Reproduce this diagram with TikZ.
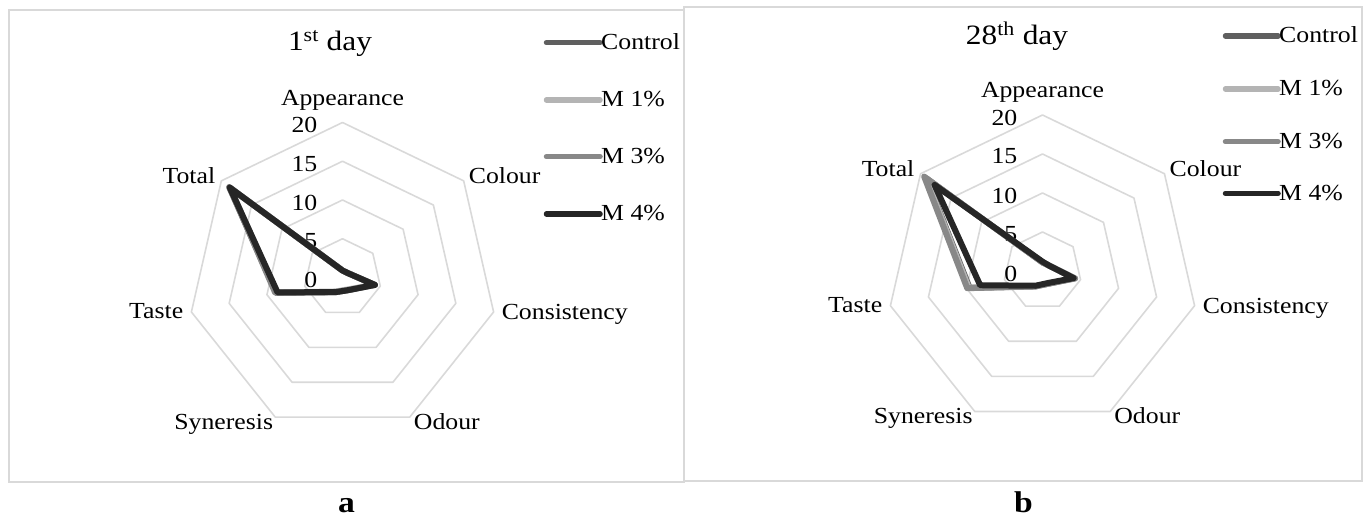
\documentclass[tikz,border=0pt]{standalone}
\usepackage{fontspec}
\setmainfont{Liberation Serif}[FakeStretch=1.12]
\usetikzlibrary{calc}
\definecolor{gridc}{HTML}{D9D9D9}
\definecolor{ctrlc}{HTML}{5F5F5F}
\definecolor{mone}{HTML}{B4B4B4}
\definecolor{mthree}{HTML}{888888}
\definecolor{mfour}{HTML}{262626}
\tikzset{
  frame/.style={draw=gridc, line width=2pt},
  ring/.style={draw=gridc, line width=1.6pt, line join=round},
  serline/.style={line width=6pt, line join=round, line cap=round},
  legline/.style={line width=5.5pt, line cap=round},
  lab/.style={inner sep=0pt, font=\fontsize{23}{27}\selectfont},
  ttl/.style={inner sep=0pt, font=\fontsize{28}{32}\selectfont},
  sub/.style={inner sep=0pt, font=\fontsize{30}{34}\selectfont\bfseries},
}
% #1 prefix, #2 cx, #3 cy, #4 R
\newcommand\radargrid[4]{%
  \foreach \m in {1,2,3,4} {
    \draw[ring] \foreach \k in {0,...,6} {
      \ifnum\k=0 ({#2+\m/4*#4*cos(90)}, {#3-\m/4*#4*sin(90)})
      \else -- ({#2+\m/4*#4*cos(90-\k*360/7)}, {#3-\m/4*#4*sin(90-\k*360/7)})\fi
    } -- cycle;
  }
  \foreach \k in {0,...,6} {
    \coordinate (#1-v\k) at ({#2+#4*cos(90-\k*360/7)}, {#3-#4*sin(90-\k*360/7)});
  }
  \foreach \m/\t in {0/0,1/5,2/10,3/15,4/20} {
    \node[lab, anchor=east] (#1-tick\m) at ({#2-25}, {#3-\m/4*#4+2.5}) {\t};
  }
  \node[lab, anchor=base] (#1-app) at ($(#1-v0)+(0,-17)$) {Appearance};
  \node[lab, anchor=base west] (#1-col) at ($(#1-v1)+(5,3)$) {Colour};
  \node[lab, anchor=base west] (#1-con) at ($(#1-v2)+(8,8)$) {Consistency};
  \node[lab, anchor=base west] (#1-odo) at ($(#1-v3)+(4,12)$) {Odour};
  \node[lab, anchor=base east] (#1-syn) at ($(#1-v4)+(-2,12)$) {Syneresis};
  \node[lab, anchor=base east] (#1-tas) at ($(#1-v5)+(-8,7)$) {Taste};
  \node[lab, anchor=base east] (#1-tot) at ($(#1-v6)+(-6,3)$) {Total};
}
% #1 name, #2 cx, #3 cy, #4 R, #5 colour, #6 values
\newcommand\radarseries[6]{%
  \foreach \v [count=\k from 0] in {#6} {
    \coordinate (#1-\k) at ({#2+\v/20*#4*cos(90-\k*360/7)}, {#3-\v/20*#4*sin(90-\k*360/7)});
  }
  \draw[serline, draw=#5] (#1-0) -- (#1-1) -- (#1-2) -- (#1-3) -- (#1-4) -- (#1-5) -- (#1-6) -- cycle;
}
% #1 prefix, #2 x0, #3 x1, #4 y, #5 colour, #6 text
\newcommand\legitem[6]{%
  \coordinate (#1-a) at (#2,#4);
  \coordinate (#1-b) at (#3,#4);
  \draw[legline, draw=#5] (#1-a) -- (#1-b);
  \node[lab, anchor=base west] (#1-t) at ($(#1-b)+(1,7)$) {#6};
}
\begin{document}
\begin{tikzpicture}[x=1pt, y=-1pt]
\useasboundingbox (0,0) rectangle (1371,518);
% frames
\draw[frame] (8.7,10.3) rectangle (684,482.3);
\draw[frame] (684,7.3) rectangle (1361.7,480.7);
% ---------- left chart: 1st day ----------
\node[ttl, anchor=base] (Ltitle) at (330,51) {1\textsuperscript{st} day};
\radargrid{L}{342.5}{277.5}{155}
\radarseries{Lc}{342.5}{277.5}{155}{ctrlc}{0.9,0.9,4.2,1.8,2.1,8.8,18.7}
\radarseries{Lm1}{342.5}{277.5}{155}{mone}{0.9,0.9,4.2,1.7,2.0,8.7,18.5}
\radarseries{Lm3}{342.5}{277.5}{155}{mthree}{0.9,0.9,4.3,1.8,2.1,8.9,18.6}
\radarseries{Lm4}{342.5}{277.5}{155}{mfour}{0.9,0.9,4.3,1.8,2.1,8.6,18.6}
\legitem{Lg1}{546.5}{600}{42.7}{ctrlc}{Control}
\legitem{Lg2}{546.5}{600}{100}{mone}{M 1\%}
\legitem{Lg3}{546.5}{600}{156.7}{mthree}{M 3\%}
\legitem{Lg4}{546.5}{600}{214}{mfour}{M 4\%}
\node[sub, anchor=base] (La) at (346.5,512) {a};
% ---------- right chart: 28th day ----------
\node[ttl, anchor=base] (Rtitle) at (1017,45) {28\textsuperscript{th} day};
\radargrid{R}{1042.5}{271}{156}
\radarseries{Rc}{1042.5}{271}{156}{ctrlc}{1.1,1.1,4.2,1.8,2.2,9.6,19.0}
\radarseries{Rm1}{1042.5}{271}{156}{mone}{1.1,1.1,4.2,1.8,2.2,9.7,19.1}
\radarseries{Rm3}{1042.5}{271}{156}{mthree}{1.1,1.1,4.3,1.8,2.2,9.9,19.4}
\radarseries{Rm4}{1042.5}{271}{156}{mfour}{1.2,1.1,4.1,1.7,2.1,8.2,17.7}
\legitem{Rg1}{1225.5}{1278}{36}{ctrlc}{Control}
\legitem{Rg2}{1225.5}{1278}{89}{mone}{M 1\%}
\legitem{Rg3}{1225.5}{1278}{141.7}{mthree}{M 3\%}
\legitem{Rg4}{1225.5}{1278}{193.3}{mfour}{M 4\%}
\node[sub, anchor=base] (Rb) at (1023.5,512) {b};
\end{tikzpicture}
\end{document}
